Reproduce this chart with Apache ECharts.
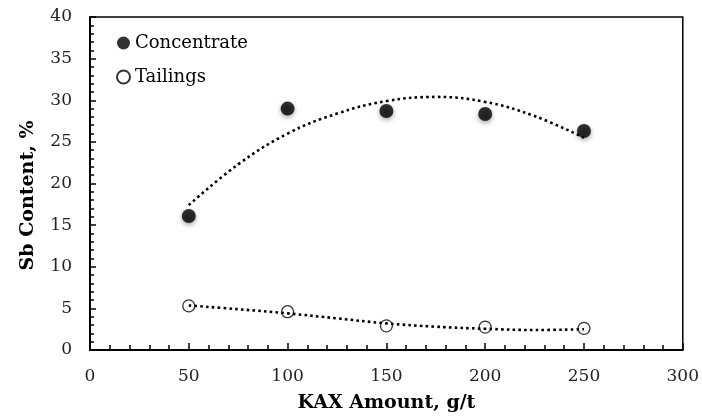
<!DOCTYPE html>
<html>
<head>
<meta charset="utf-8">
<script src="https://cdn.jsdelivr.net/npm/echarts@6/dist/echarts.min.js"></script>
<style>
html,body{margin:0;padding:0;background:#fff;}
#chart{width:702px;height:419px;}
</style>
</head>
<body>
<div id="chart"></div>
<script>
// Data
const kaxAmounts = [50, 100, 150, 200, 250];
const concentrateValues = [16.1, 29.0, 28.7, 28.35, 26.3];
const tailingsValues = [5.3, 4.6, 2.9, 2.75, 2.6];
// Dotted trendlines
const trendX = [50, 75, 100, 125, 150, 175, 200, 225, 250];
const concentrateTrend = [17.4, 22.3, 26.0, 28.4, 29.9, 30.4, 29.8, 28.1, 25.5];
const tailingsTrend = [5.35, 4.9, 4.4, 3.8, 3.2, 2.8, 2.55, 2.4, 2.5];
const xTicks = [0, 50, 100, 150, 200, 250, 300];
const yTicks = [0, 5, 10, 15, 20, 25, 30, 35, 40];

const FONT = 'DejaVu Serif';
const pair = (xs, ys) => xs.map((x, i) => [x, ys[i]]);

const chart = echarts.init(document.getElementById('chart'), null, {renderer: 'canvas'});
chart.setOption({
  animation: false,
  backgroundColor: '#fff',
  grid: {left: 90, right: 16, top: 17, bottom: 69, show: true, borderColor: '#000', borderWidth: 1.5, backgroundColor: 'transparent'},
  legend: {
    orient: 'vertical', left: 111, top: 29, itemGap: 16,
    itemWidth: 13, itemHeight: 13,
    textStyle: {fontFamily: FONT, fontSize: 18, color: '#000'},
    data: [
      {name: 'Concentrate', icon: 'circle', itemStyle: {color: '#000'}},
      {name: 'Tailings', icon: 'circle', itemStyle: {color: '#fff', borderColor: '#000', borderWidth: 2}}
    ]
  },
  xAxis: {
    type: 'value', min: xTicks[0], max: xTicks[xTicks.length - 1], interval: 50,
    name: 'KAX Amount, g/t', nameLocation: 'middle', nameGap: 44,
    nameTextStyle: {fontFamily: FONT, fontSize: 19, fontWeight: 'bold', color: '#000'},
    axisLine: {lineStyle: {color: '#000', width: 2}},
    axisTick: {inside: true, length: 7, lineStyle: {color: '#000', width: 1.5}},
    minorTick: {show: true, splitNumber: 5, length: 5, lineStyle: {color: '#000', width: 1.5}},
    axisLabel: {fontFamily: FONT, fontSize: 17, color: '#222', margin: 18},
    splitLine: {show: false}
  },
  yAxis: {
    type: 'value', min: yTicks[0], max: yTicks[yTicks.length - 1], interval: 5,
    name: 'Sb Content, %', nameLocation: 'middle', nameGap: 52, nameRotate: 90,
    nameTextStyle: {fontFamily: FONT, fontSize: 19, fontWeight: 'bold', color: '#000', padding: [0, 24, 0, 0]},
    axisLine: {lineStyle: {color: '#000', width: 2}},
    axisTick: {inside: true, length: 6, lineStyle: {color: '#000', width: 1.5}},
    minorTick: {show: true, splitNumber: 5, length: 4, lineStyle: {color: '#000', width: 1.5}},
    axisLabel: {fontFamily: FONT, fontSize: 17, color: '#222', margin: 18},
    splitLine: {show: false}
  },
  series: [
    {
      name: 'ConcentrateTrend', type: 'line', smooth: 0.4, showSymbol: false, silent: true, z: 1,
      data: pair(trendX, concentrateTrend),
      lineStyle: {color: '#000', width: 2.6, type: [2.6, 3.2]}
    },
    {
      name: 'TailingsTrend', type: 'line', smooth: 0.4, showSymbol: false, silent: true, z: 1,
      data: pair(trendX, tailingsTrend),
      lineStyle: {color: '#000', width: 2.6, type: [2.6, 3.2]}
    },
    {
      name: 'Concentrate', type: 'scatter', symbol: 'circle', symbolSize: 14, z: 3,
      data: pair(kaxAmounts, concentrateValues),
      itemStyle: {color: '#000', shadowBlur: 5, shadowColor: 'rgba(0,0,0,0.45)', shadowOffsetY: 2}
    },
    {
      name: 'Tailings', type: 'scatter', symbol: 'circle', symbolSize: 12, z: 3,
      data: pair(kaxAmounts, tailingsValues),
      itemStyle: {color: 'rgba(255,255,255,0)', borderColor: '#000', borderWidth: 1.3}
    }
  ]
});
</script>
</body>
</html>
